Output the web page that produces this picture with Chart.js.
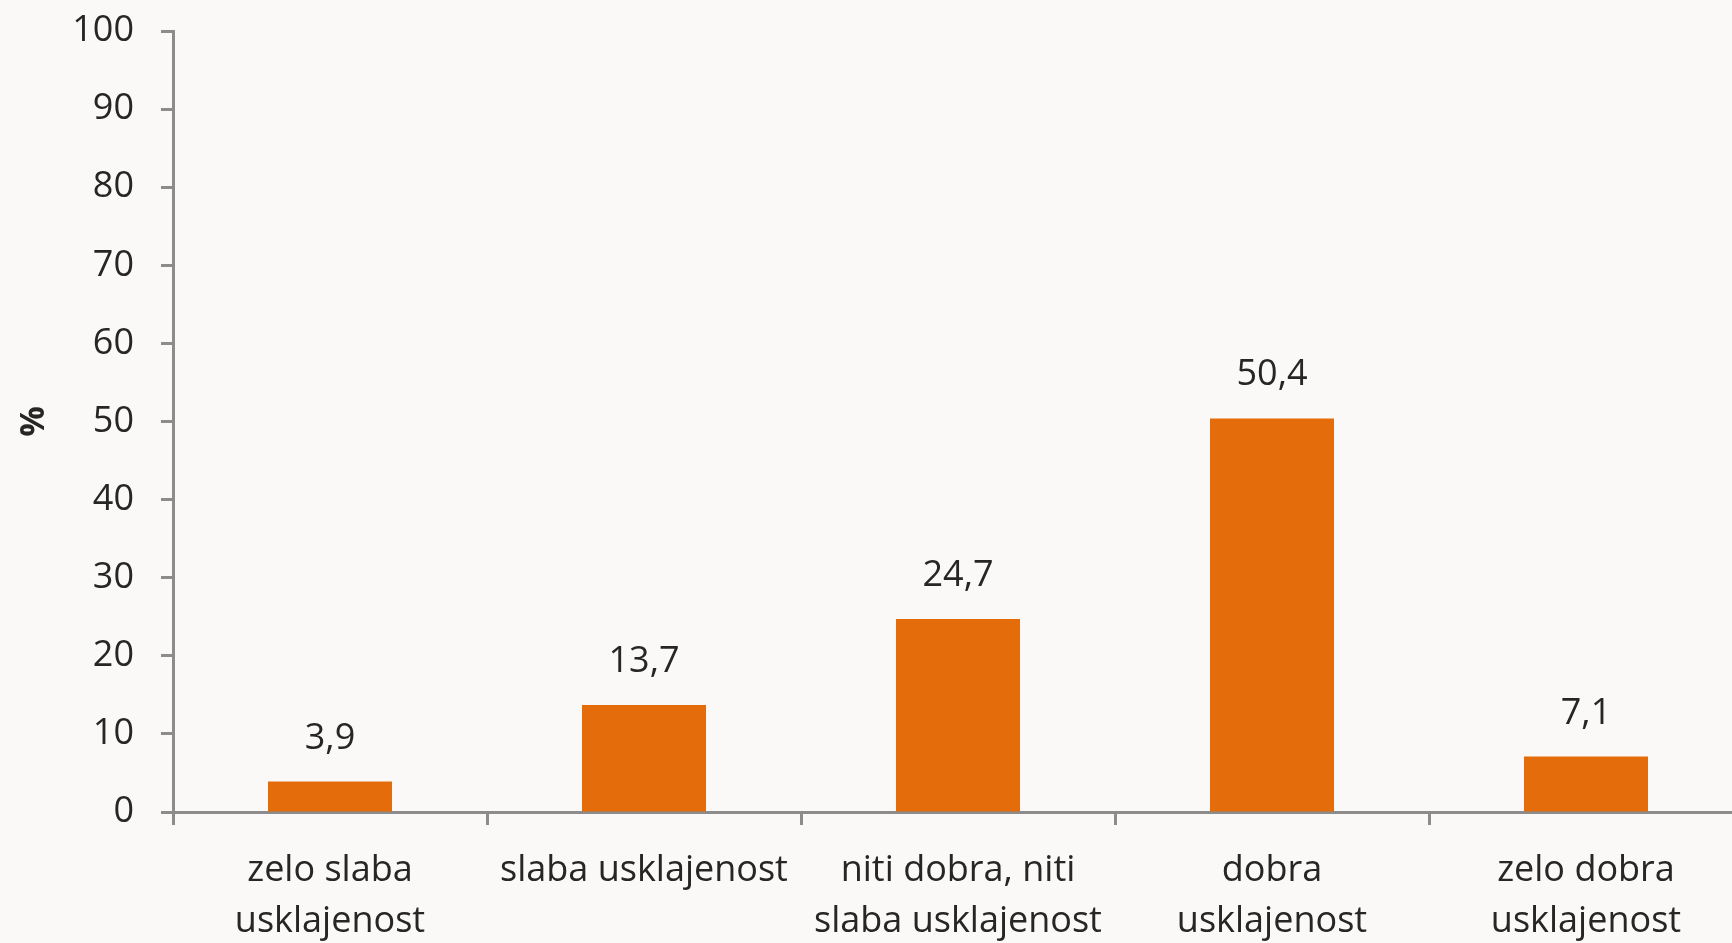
<!DOCTYPE html>
<html>
<head>
<meta charset="utf-8">
<script src="https://cdn.jsdelivr.net/npm/chart.js@4"></script>
<style>
  html, body { margin: 0; padding: 0; overflow: hidden; background: #faf9f7; }
  #wrap { width: 1745px; height: 943px; position: relative; }
</style>
</head>
<body>
<div id="wrap"><canvas id="chart"></canvas></div>
<script>
const categories = [
    ['zelo slaba', 'usklajenost'],
    ['slaba usklajenost'],
    ['niti dobra, niti', 'slaba usklajenost'],
    ['dobra', 'usklajenost'],
    ['zelo dobra', 'usklajenost']
];
const shares = [3.9, 13.7, 24.7, 50.4, 7.1];
const yTicks = [0, 10, 20, 30, 40, 50, 60, 70, 80, 90, 100];

const font = { family: 'Open Sans', size: 36 };
const axisGray = '#8c8c8c';
const textColor = '#262626';

// draw the numbers above the bars, with a decimal comma
const valueLabels = {
    id: 'valueLabels',
    afterDatasetsDraw(chart) {
        const ctx = chart.ctx;
        const meta = chart.getDatasetMeta(0);
        ctx.save();
        ctx.font = font.size + 'px "' + font.family + '"';
        ctx.fillStyle = textColor;
        ctx.textAlign = 'center';
        ctx.textBaseline = 'alphabetic';
        meta.data.forEach((bar, i) => {
            ctx.fillText(shares[i].toFixed(1).replace('.', ','), bar.x, bar.y - 33);
        });
        ctx.restore();
    }
};

new Chart(document.getElementById('chart').getContext('2d'), {
    type: 'bar',
    data: {
        labels: categories,
        datasets: [{
            data: shares,
            backgroundColor: '#e46c0a',
            barPercentage: 0.79,
            categoryPercentage: 0.5
        }]
    },
    options: {
        responsive: true,
        maintainAspectRatio: false,
        animation: false,
        layout: { padding: { top: 31, right: 2, left: 0, bottom: 0 } },
        plugins: {
            legend: { display: false },
            tooltip: { enabled: false }
        },
        scales: {
            x: {
                grid: {
                    offset: true,
                    drawOnChartArea: false,
                    drawTicks: true,
                    tickLength: 13,
                    tickWidth: 3,
                    tickColor: axisGray
                },
                border: { color: axisGray, width: 3 },
                ticks: {
                    color: textColor,
                    font: { family: 'Open Sans', size: 36, lineHeight: 1.42 },
                    padding: 20,
                    maxRotation: 0,
                    autoSkip: false
                },
                afterFit(scale) {
                    scale.height = 131;
                    scale.paddingLeft = 0;
                    scale.paddingRight = 0;
                }
            },
            y: {
                min: 0,
                max: 100,
                afterBuildTicks(scale) { scale.ticks = yTicks.map(v => ({ value: v })); },
                grid: {
                    drawOnChartArea: false,
                    drawTicks: true,
                    tickLength: 12,
                    tickWidth: 3,
                    tickColor: axisGray
                },
                border: { color: axisGray, width: 3 },
                ticks: {
                    color: textColor,
                    font: font,
                    padding: 27
                },
                title: {
                    display: true,
                    text: '%',
                    color: textColor,
                    font: { family: 'Open Sans', size: 34, weight: 'bold' },
                    padding: { top: 14, bottom: 0 }
                },
                afterFit(scale) {
                    scale.width = 173;
                    scale.paddingTop = 0;
                    scale.paddingBottom = 0;
                }
            }
        }
    },
    plugins: [valueLabels]
});
</script>
</body>
</html>
